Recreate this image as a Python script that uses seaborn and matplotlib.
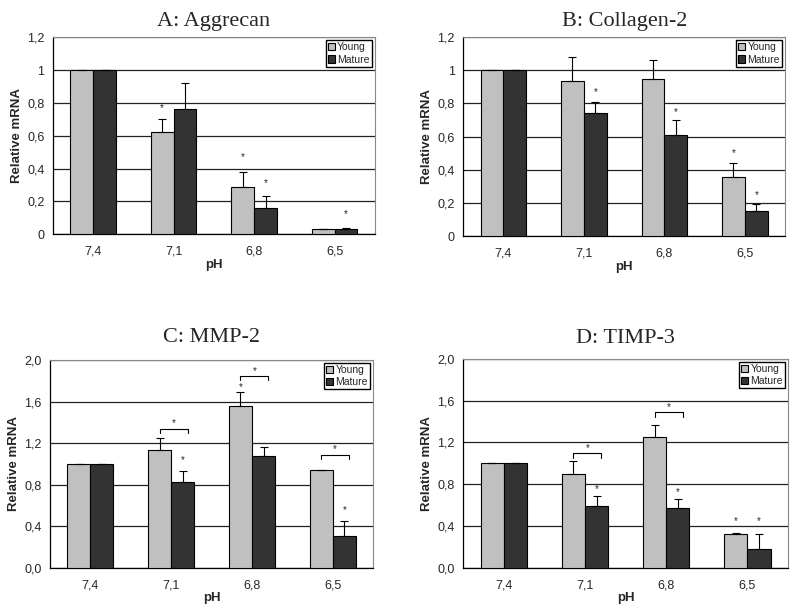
import numpy as np
import pandas as pd
import matplotlib
matplotlib.use("Agg")
import matplotlib.pyplot as plt
import seaborn as sns

ph = ["7,4", "7,1", "6,8", "6,5"]
groups = ["Young", "Mature"]

titles = ["A: Aggrecan", "B: Collagen-2", "C: MMP-2", "D: TIMP-3"]

young = [
    [1, 0.62, 0.29, 0.03],
    [1, 0.935, 0.95, 0.356],
    [1, 1.13, 1.557, 0.94],
    [1, 0.90, 1.25, 0.32],
]
young_err = [
    [0, 0.08, 0.09, 0.0],
    [0, 0.145, 0.115, 0.084],
    [0, 0.115, 0.133, 0.005],
    [0, 0.12, 0.12, 0.01],
]
mature = [
    [1, 0.76, 0.16, 0.03],
    [1, 0.74, 0.61, 0.15],
    [1, 0.83, 1.08, 0.305],
    [1, 0.59, 0.57, 0.18],
]
mature_err = [
    [0, 0.16, 0.07, 0.01],
    [0, 0.07, 0.09, 0.045],
    [0, 0.10, 0.085, 0.145],
    [0, 0.10, 0.09, 0.14],
]
# significance stars (y position) over young / mature bars
young_star = [
    [None, 0.77, 0.47, None],
    [None, None, None, 0.50],
    [None, None, 1.74, None],
    [None, None, None, 0.45],
]
mature_star = [
    [None, None, 0.31, 0.12],
    [None, 0.87, 0.75, 0.245],
    [None, 1.04, None, 0.555],
    [None, 0.75, 0.725, 0.45],
]
# young vs mature brackets
brackets = [
    [None, None, None, None],
    [None, None, None, None],
    [None, 1.34, 1.846, 1.09],
    [None, 1.096, 1.49, None],
]

ytick_vals = [[0, 0.2, 0.4, 0.6, 0.8, 1.0, 1.2]] * 2 + [[0, 0.4, 0.8, 1.2, 1.6, 2.0]] * 2
ytick_labels = [["0", "0,2", "0,4", "0,6", "0,8", "1", "1,2"]] * 2 + \
               [["0,0", "0,4", "0,8", "1,2", "1,6", "2,0"]] * 2

sns.set_style("white")
plt.rcParams["font.family"] = ["Liberation Sans", "DejaVu Sans"]

fig = plt.figure(figsize=(8, 6.1), dpi=100)
positions = [
    [0.066, 0.616, 0.4025, 0.323],
    [0.579, 0.613, 0.4025, 0.326],
    [0.0625, 0.069, 0.404, 0.341],
    [0.579, 0.069, 0.406, 0.343],
]
title_pad = [8, 8, 13, 11]

for i in range(4):
    ax = fig.add_axes(positions[i])
    df = pd.DataFrame({
        "pH": ph * 2,
        "age": ["Young"] * 4 + ["Mature"] * 4,
        "val": young[i] + mature[i],
    })
    sns.barplot(data=df, x="pH", y="val", hue="age", order=ph, hue_order=groups,
                palette=["#c0c0c0", "#333333"], width=0.57, edgecolor="black",
                linewidth=0.8, errorbar=None, ax=ax, zorder=3)

    ymax = ytick_vals[i][-1]
    for k, (vals, errs, stars) in enumerate([(young[i], young_err[i], young_star[i]),
                                             (mature[i], mature_err[i], mature_star[i])]):
        bars = ax.containers[k]
        xs = [b.get_x() + b.get_width() / 2 for b in bars]
        ax.errorbar(xs, vals, yerr=[np.zeros(4), errs], fmt="none", ecolor="black",
                    elinewidth=0.8, capsize=3, capthick=0.8, zorder=4)
        for x, s in zip(xs, stars):
            if s is not None:
                ax.text(x, s, "*", ha="center", va="center", fontsize=7, zorder=5)

    yb = [b.get_x() + b.get_width() / 2 for b in ax.containers[0]]
    mb = [b.get_x() + b.get_width() / 2 for b in ax.containers[1]]
    tick = ymax * 0.022
    for j, by in enumerate(brackets[i]):
        if by is not None:
            ax.plot([yb[j], yb[j], mb[j] + 0.06, mb[j] + 0.06],
                    [by - tick, by, by, by - tick], color="black", lw=0.8, zorder=5)
            ax.text((yb[j] + mb[j] + 0.06) / 2, by + ymax * 0.025, "*",
                    ha="center", va="center", fontsize=7, zorder=5)

    ax.set_ylim(0, ymax)
    ax.set_xlim(-0.5, 3.5)
    ax.set_yticks(ytick_vals[i])
    ax.set_yticklabels(ytick_labels[i], fontsize=9)
    ax.set_xticks(range(4))
    ax.set_xticklabels(ph, fontsize=9)
    ax.set_xticks([-0.5, 0.5, 1.5, 2.5, 3.5], minor=True)
    ax.tick_params(axis="x", which="major", length=0, pad=8)
    ax.tick_params(axis="x", which="minor", length=4, width=0.8, color="black", direction="out")
    ax.tick_params(axis="y", length=4, width=0.8, color="black", direction="out", pad=2)
    ax.yaxis.grid(True, color="#222222", lw=0.9, zorder=0)
    ax.set_axisbelow(True)
    for side in ["left", "bottom"]:
        ax.spines[side].set_color("black")
        ax.spines[side].set_linewidth(0.9)
    for side in ["top", "right"]:
        ax.spines[side].set_color("#888888")
        ax.spines[side].set_linewidth(0.8)

    ax.set_xlabel("pH", fontsize=9.5, fontweight="bold", labelpad=1)
    ax.set_ylabel("Relative mRNA", fontsize=9.5, fontweight="bold", labelpad=3)
    ax.set_title(titles[i], fontsize=16, family="Liberation Serif", pad=title_pad[i])

    handles, labels = ax.get_legend_handles_labels()
    ax.legend(handles, labels, loc="upper right", fontsize=7.5, frameon=True,
              fancybox=False, edgecolor="black", framealpha=1, borderpad=0.2,
              handlelength=0.7, handleheight=0.7, handletextpad=0.2,
              labelspacing=0.2, borderaxespad=0.3)

fig.savefig("out.png", dpi=100)
